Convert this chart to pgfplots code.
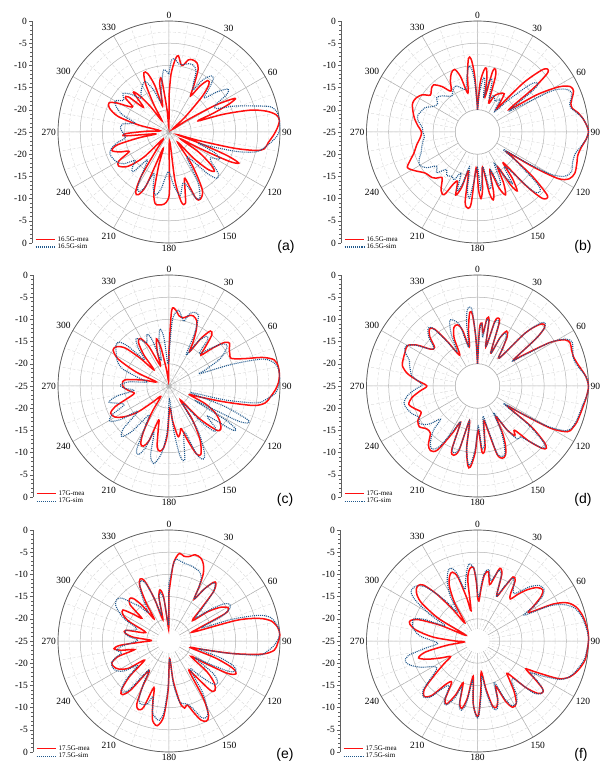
\documentclass[border=0pt]{standalone}
\usepackage{fontspec}
\setmainfont{Liberation Serif}
\setsansfont{Liberation Sans}
\usepackage{pgfplots}
\usepackage{pgfplotstable}
\pgfplotsset{compat=1.18}
\usepgfplotslibrary{polar}
\definecolor{simblue}{RGB}{32,88,140}
\definecolor{mred}{RGB}{255,15,15}
\definecolor{axgray}{RGB}{95,95,95}

\pgfplotsset{
  table/polartab/.style={x expr={mod(450-\thisrow{a},360)}, y expr={\thisrow{d}+25}},
  mypolar/.style={
    scale only axis, width=222pt, height=222pt, anchor=center,
    xmin=0, xmax=360, ymin=0, ymax=25,
    xtick={0,30,...,330},
    xticklabels={90,60,30,0,330,300,270,240,210,180,150,120},
    ytick={5,10,15,20,25}, yticklabels={{},{},{},{},{}},
    minor xtick={0,10,...,350},
    minor ytick={2.5,7.5,12.5,17.5,22.5},
    grid=both,
    major grid style={draw=gray!60, line width=0.5pt},
    minor grid style={draw=gray!30, densely dashed, line width=0.4pt},
    axis line style={draw=axgray, line width=0.7pt},
    y axis line style={draw=none},
    major tick length=0pt, minor tick length=0pt,
    xticklabel style={font=\fontsize{9.5}{11}\selectfont, inner sep=2pt},
    clip=false,
  },
  mea/.style={color=mred, line width=1.5pt, smooth, tension=0.5},
  sim/.style={color=simblue, line width=1.1pt, dash pattern=on 1pt off 1pt, smooth, tension=0.5},
  scaleax/.style={anchor=south west, scale only axis, width=1pt, height=222pt,
    xmin=0, xmax=1, ymin=0, ymax=50, hide x axis, axis y line*=left,
    ytick={0,5,...,50}, yticklabels={0,-5,-10,-15,-20,-25,-20,-15,-10,-5,0},
    minor y tick num=4, tick align=outside, major tick length=3pt, minor tick length=1.6pt,
    y axis line style={draw=axgray, line width=0.6pt},
    every tick/.style={axgray, line width=0.5pt},
    yticklabel style={font=\fontsize{9.5}{11}\selectfont, inner sep=2pt},
    legend style={at={(axis description cs:0,0)}, anchor=north west, xshift=2.5pt, yshift=8.8pt,
      draw=none, fill=none, font=\fontsize{7}{8}\selectfont, row sep=-2.5pt, inner sep=0pt,
      cells={anchor=west}},
    legend image code/.code={\draw[##1] (0pt,0pt) -- (19pt,0pt);}},
}
\newcommand{\leg}[1]{%
  \addlegendimage{draw=mred, solid, line width=1.8pt}\addlegendentry{#1-mea}
  \addlegendimage{draw=simblue, line width=1.2pt, dash pattern=on 1.1pt off 1pt}\addlegendentry{#1-sim}}

% ---------------- (a) 16.5 GHz ----------------
\pgfplotstableread[row sep=\\]{a d\\
0 -17\\ 2 -12\\ 5 -8.5\\ 7 -7.7\\ 10 -9.5\\ 12 -9.6\\ 15 -8.2\\ 18 -7.9\\ 22 -8.2\\ 25 -9.5\\ 28 -13\\ 31 -15.5\\ 34 -12.5\\ 37 -10.5\\ 40 -11\\ 43 -14\\ 47 -20\\ 52 -24\\ 57 -20\\ 60 -13\\ 63 -8.3\\ 65 -10\\ 67 -14\\ 69 -18\\ 72 -12\\ 75 -6\\ 78 -2.5\\ 81 -0.5\\ 84 0\\ 88 -0.6\\ 92 -1.5\\ 96 -2.5\\ 100 -3.2\\ 102 -5\\ 104 -10\\ 106 -18\\ 108 -23\\ 110 -18\\ 112 -11\\ 114 -7.8\\ 116 -10\\ 118 -17\\ 121 -22\\ 124 -17\\ 128 -13\\ 131 -11.5\\ 134 -13\\ 137 -17\\ 140 -22\\ 145 -16\\ 150 -10\\ 155 -8.3\\ 158 -9\\ 161 -14\\ 164 -12\\ 167 -8.5\\ 170 -9\\ 173 -14\\ 177 -23\\ 179.5 -12\\ 181 -9.7\\ 184 -8.7\\ 188 -8.4\\ 191 -8.6\\ 194 -11\\ 197 -17\\ 200 -21\\ 203 -12\\ 206 -9.3\\ 209 -9.5\\ 212 -13\\ 215 -20\\ 220 -23\\ 225 -17\\ 230 -13\\ 236 -11.3\\ 240 -12\\ 244 -15\\ 248 -13\\ 252 -11.5\\ 256 -13\\ 259 -18\\ 262 -22\\ 265 -15\\ 268 -15.5\\ 272 -20\\ 278 -23\\ 283 -18\\ 287 -13\\ 292 -10.5\\ 296 -10\\ 299 -11.5\\ 302 -14\\ 305 -15\\ 308 -12.5\\ 311 -13\\ 314 -17\\ 318 -13\\ 321 -14.5\\ 324 -18\\ 328 -22\\ 331 -18\\ 334 -13\\ 337 -10.5\\ 340 -11\\ 343 -14\\ 346 -19\\ 349 -14\\ 352 -13\\ 355 -20\\ 358 -24\\ 360 -17\\
}\AMea
\pgfplotstableread[row sep=\\]{a d\\
0 -12\\ 2 -8.8\\ 5 -8.6\\ 8 -9.5\\ 12 -9.5\\ 16 -9\\ 20 -9\\ 24 -10\\ 27 -13\\ 30 -14\\ 33 -11\\ 37 -9.2\\ 40 -9.5\\ 43 -12\\ 46 -14\\ 50 -11\\ 54 -8.5\\ 57 -9.5\\ 60 -13\\ 64 -13\\ 68 -9.5\\ 72 -6\\ 76 -1.5\\ 80 -0.2\\ 84 0\\ 88 0\\ 92 -0.6\\ 96 -2\\ 100 -3.5\\ 103 -5\\ 106 -9\\ 109 -15\\ 111 -18\\ 114 -14\\ 118 -12\\ 122 -14\\ 126 -13\\ 130 -10.5\\ 134 -10\\ 137 -12\\ 140 -16\\ 145 -18\\ 150 -12\\ 155 -8.5\\ 158 -9\\ 161 -12\\ 165 -13\\ 170 -10.5\\ 175 -13\\ 180 -16\\ 184 -15\\ 188 -12\\ 192 -10.5\\ 196 -12\\ 200 -15\\ 204 -11\\ 207 -10\\ 210 -11\\ 214 -15\\ 218 -17\\ 222 -13\\ 226 -13.5\\ 230 -15\\ 235 -12.5\\ 240 -11.5\\ 245 -11\\ 250 -10.8\\ 254 -11.5\\ 258 -13\\ 262 -15\\ 266 -15\\ 270 -14.5\\ 275 -14\\ 280 -14.5\\ 285 -17\\ 290 -14\\ 295 -12\\ 300 -11\\ 305 -12.5\\ 310 -11.5\\ 315 -13\\ 320 -15\\ 325 -14\\ 330 -13\\ 335 -12.5\\ 340 -15\\ 345 -18\\ 350 -15\\ 355 -11\\ 360 -12\\
}\ASim
% ---------------- (b) ----------------
\pgfplotstableread[row sep=\\]{a d\\
0 -20\\ 3 -14\\ 6 -11\\ 8 -10.5\\ 10 -13\\ 12 -17\\ 14 -11\\ 16 -10.3\\ 18 -12\\ 21 -18\\ 25 -16\\ 30 -15\\ 35 -14.5\\ 38 -17\\ 40 -18\\ 43 -10\\ 46 -5\\ 48 -3.8\\ 50 -4.5\\ 52 -9\\ 54 -16\\ 56 -15\\ 58 -9\\ 61 -4\\ 64 -1.7\\ 67 -1.5\\ 70 -2.3\\ 73 -3\\ 76 -3\\ 79 -2\\ 83 -1\\ 87 -0.3\\ 90 0\\ 94 -0.5\\ 98 -1.3\\ 103 -1.8\\ 108 -1.5\\ 113 -1.2\\ 117 -1.8\\ 120 -4\\ 122 -10\\ 124 -17\\ 126 -15\\ 129 -9\\ 132 -4\\ 134 -3.4\\ 136 -4.5\\ 138 -9\\ 140 -16\\ 143 -12\\ 146 -9\\ 148 -11\\ 150 -16\\ 153 -12\\ 156 -9.5\\ 159 -11.5\\ 162 -16\\ 165 -11\\ 167 -9.3\\ 169 -11\\ 172 -17\\ 175 -12\\ 177 -10\\ 179 -12\\ 182 -17\\ 185 -9\\ 187 -7.7\\ 190 -9\\ 193 -16\\ 196 -12\\ 199 -10\\ 202 -13\\ 205 -12\\ 208 -9\\ 212 -9.5\\ 215 -11\\ 218 -12\\ 222 -11\\ 225 -10.5\\ 232 -10\\ 238 -8.5\\ 243 -7.3\\ 247 -8.5\\ 252 -10\\ 258 -11\\ 264 -12\\ 270 -12.4\\ 276 -11.5\\ 282 -10.5\\ 288 -9.7\\ 294 -9\\ 299 -9.2\\ 304 -10\\ 308 -11.5\\ 313 -10.8\\ 317 -10.5\\ 322 -12\\ 327 -14\\ 332 -12\\ 336 -10.5\\ 340 -10\\ 343 -12\\ 346 -16\\ 350 -12\\ 353 -8.3\\ 355 -8.5\\ 357 -12\\ 359 -18\\ 360 -20\\
}\BMea
\pgfplotstableread[row sep=\\]{a d\\
0 -20\\ 3 -16\\ 6 -13\\ 8 -13\\ 10 -17\\ 13 -13\\ 16 -13\\ 19 -17\\ 24 -16\\ 30 -17\\ 35 -16\\ 40 -19\\ 44 -15\\ 48 -9\\ 51 -7.5\\ 53 -9\\ 56 -16\\ 58 -15\\ 61 -6\\ 64 -3\\ 67 -2\\ 70 -2.5\\ 73 -3.3\\ 76 -3.2\\ 79 -2.2\\ 83 -1\\ 87 -0.3\\ 90 0\\ 94 -0.5\\ 98 -1.5\\ 103 -2.5\\ 108 -2.5\\ 113 -2\\ 117 -3\\ 120 -6\\ 122 -12\\ 124 -18\\ 127 -14\\ 131 -7\\ 134 -5.5\\ 137 -7\\ 140 -14\\ 143 -15\\ 146 -11\\ 149 -14\\ 152 -17\\ 155 -13\\ 158 -12\\ 161 -16\\ 165 -13\\ 168 -12\\ 171 -17\\ 174 -15\\ 177 -12\\ 180 -17\\ 184 -14\\ 187 -10\\ 190 -12\\ 193 -17\\ 196 -13\\ 199 -11\\ 202 -15\\ 206 -13\\ 210 -13.5\\ 215 -13\\ 220 -14\\ 225 -12\\ 230 -13\\ 235 -11\\ 240 -10\\ 245 -10.5\\ 250 -11.5\\ 255 -12\\ 260 -12.5\\ 265 -13\\ 270 -12.7\\ 275 -12.5\\ 280 -11.5\\ 285 -11\\ 290 -11.5\\ 295 -12\\ 300 -13.5\\ 305 -14\\ 310 -13\\ 315 -13.5\\ 320 -14.5\\ 325 -15\\ 330 -14\\ 335 -13.5\\ 340 -14.5\\ 345 -15\\ 348 -13\\ 351 -11\\ 353 -10\\ 355 -11\\ 357 -14\\ 360 -20\\
}\BSim
% ---------------- (c) ----------------
\pgfplotstableread[row sep=\\]{a d\\
0 -17\\ 2 -8\\ 5 -7.8\\ 8 -9\\ 12 -9.3\\ 16 -8.5\\ 19 -8.3\\ 23 -9\\ 26 -11\\ 29 -14\\ 31 -16\\ 34 -12\\ 37 -9.5\\ 40 -10\\ 43 -13\\ 46 -15\\ 49 -12\\ 52 -9\\ 55 -8.3\\ 58 -9\\ 62 -9.5\\ 66 -9.7\\ 70 -7\\ 73 -3\\ 76 -0.6\\ 80 0\\ 84 0\\ 88 -0.3\\ 92 -1\\ 96 -2\\ 100 -3\\ 103 -5.5\\ 106 -12\\ 110 -18\\ 113 -20\\ 116 -16\\ 120 -13\\ 125 -11\\ 130 -9.8\\ 133 -10.5\\ 137 -15\\ 141 -21\\ 145 -16\\ 150 -11\\ 155 -8\\ 158 -8.5\\ 161 -12\\ 164 -15\\ 167 -14\\ 170 -13.5\\ 174 -17\\ 178 -20\\ 182 -14\\ 185 -11\\ 188 -10.2\\ 191 -11\\ 194 -15\\ 197 -17\\ 200 -12\\ 203 -10.3\\ 206 -10.5\\ 209 -13\\ 213 -18\\ 218 -22\\ 225 -20\\ 230 -16\\ 235 -13\\ 240 -11\\ 245 -10.5\\ 249 -12\\ 253 -15\\ 258 -17\\ 263 -16\\ 268 -14.8\\ 273 -14.5\\ 278 -15\\ 283 -19\\ 288 -22\\ 293 -17\\ 298 -12\\ 303 -10\\ 307 -10.3\\ 311 -12\\ 314 -16\\ 317 -20\\ 321 -16\\ 325 -13\\ 329 -12.5\\ 333 -15\\ 337 -20\\ 341 -17\\ 345 -14\\ 348 -16\\ 351 -21\\ 355 -24\\ 358 -22\\ 360 -17\\
}\CMea
\pgfplotstableread[row sep=\\]{a d\\
0 -18\\ 3 -10\\ 7 -7.8\\ 10 -9\\ 13 -10\\ 16 -8\\ 20 -7.4\\ 23 -8\\ 26 -12\\ 29 -17\\ 33 -13\\ 37 -11\\ 40 -11.5\\ 43 -15\\ 47 -13\\ 51 -10\\ 55 -9\\ 58 -10\\ 62 -12\\ 66 -16\\ 68 -17.6\\ 71 -10\\ 74 -3\\ 78 -0.6\\ 82 0\\ 86 0\\ 90 -0.3\\ 94 -1\\ 98 -3\\ 101 -5\\ 104 -12\\ 107 -20\\ 110 -12\\ 113 -6\\ 115 -5.3\\ 117 -8\\ 119 -18\\ 121 -10\\ 123 -7\\ 125 -8\\ 128 -14\\ 132 -11\\ 135 -10.5\\ 138 -14\\ 142 -20\\ 147 -13\\ 152 -8\\ 155 -6.8\\ 158 -8.5\\ 161 -14\\ 165 -12\\ 168 -8\\ 171 -9\\ 174 -15\\ 178 -22\\ 182 -15\\ 186 -10\\ 190 -7.5\\ 192 -7.3\\ 195 -9\\ 198 -14\\ 201 -10\\ 204 -8.1\\ 207 -9\\ 211 -15\\ 215 -17\\ 219 -12\\ 223 -9.4\\ 227 -11\\ 231 -16\\ 235 -12\\ 239 -9.5\\ 243 -10.5\\ 247 -14\\ 251 -13\\ 255 -11\\ 259 -13\\ 263 -17\\ 267 -15\\ 271 -14\\ 276 -16\\ 280 -20\\ 285 -18\\ 290 -14\\ 296 -12\\ 302 -11\\ 307 -10\\ 311 -9.9\\ 314 -12\\ 317 -17\\ 321 -14\\ 325 -12\\ 329 -13\\ 333 -14\\ 337 -12.3\\ 340 -14\\ 343 -19\\ 347 -15\\ 351 -12\\ 354 -14\\ 357 -20\\ 360 -18\\
}\CSim
% ---------------- (d) ----------------
\pgfplotstableread[row sep=\\]{a d\\
0 -20\\ 2 -12\\ 4 -10.8\\ 6 -13\\ 8 -9.6\\ 10 -10\\ 12 -16\\ 15 -10\\ 17 -9\\ 19 -10\\ 22 -17\\ 25 -13\\ 28 -11\\ 31 -12\\ 34 -15\\ 38 -17\\ 42 -9\\ 45 -5.5\\ 47 -4.6\\ 49 -5\\ 51 -8\\ 54 -15\\ 56 -12.5\\ 59 -6\\ 62 -2.8\\ 65 -2\\ 69 -2.3\\ 73 -2.4\\ 77 -2\\ 81 -1.3\\ 85 -0.5\\ 90 0\\ 95 -0.3\\ 100 -0.7\\ 105 -1\\ 110 -1.2\\ 114 -1.6\\ 117 -2.3\\ 120 -6\\ 122 -13\\ 124 -17\\ 127 -10\\ 130 -5.5\\ 132 -4.1\\ 134 -4.8\\ 137 -8\\ 140 -12\\ 143 -11\\ 146 -13\\ 149 -17\\ 152 -13\\ 155 -10\\ 158 -8.2\\ 161 -7.8\\ 164 -9\\ 167 -15\\ 170 -17\\ 173 -11\\ 176 -10\\ 179 -15\\ 182 -10\\ 185 -6.7\\ 187 -7\\ 190 -11\\ 193 -17\\ 196 -10\\ 199 -8.5\\ 202 -9.5\\ 205 -16\\ 208 -13\\ 212 -8\\ 216 -7\\ 220 -7.8\\ 225 -10\\ 230 -10\\ 235 -9\\ 240 -9.5\\ 245 -11\\ 250 -10\\ 255 -9\\ 260 -10\\ 265 -12\\ 270 -13.6\\ 275 -11.5\\ 280 -9\\ 285 -7.5\\ 290 -7.2\\ 295 -7\\ 300 -6.8\\ 304 -8.5\\ 308 -11.5\\ 312 -12\\ 316 -9.5\\ 320 -8.2\\ 323 -9\\ 326 -13\\ 330 -17\\ 334 -13\\ 338 -10.8\\ 342 -10.5\\ 345 -12\\ 348 -16\\ 351 -12\\ 354 -8.3\\ 356 -9\\ 358 -14\\ 360 -20\\
}\DMea
\pgfplotstableread[row sep=\\]{a d\\
0 -20\\ 2 -13\\ 4 -11\\ 6 -14\\ 8 -10\\ 10 -10.5\\ 12 -16\\ 15 -10.5\\ 17 -9.5\\ 19 -10.5\\ 22 -17\\ 25 -13\\ 28 -11.5\\ 31 -12.5\\ 34 -15\\ 38 -17\\ 42 -9\\ 45 -5\\ 47 -4.2\\ 49 -5\\ 51 -8\\ 54 -15\\ 56 -13.5\\ 59 -6\\ 62 -2.5\\ 65 -1.5\\ 69 -2\\ 73 -2.5\\ 77 -2.3\\ 81 -1.5\\ 85 -0.5\\ 90 0\\ 95 -0.3\\ 100 -0.9\\ 105 -1.2\\ 110 -1.4\\ 114 -1.8\\ 117 -2.8\\ 120 -7\\ 122 -14\\ 124 -18\\ 127 -11\\ 130 -6\\ 132 -4.5\\ 134 -5\\ 137 -8\\ 140 -10\\ 143 -10\\ 146 -13\\ 149 -18\\ 152 -14\\ 155 -11\\ 158 -8.5\\ 161 -8.2\\ 164 -9.5\\ 167 -16\\ 170 -18\\ 173 -12\\ 176 -11\\ 179 -16\\ 182 -11\\ 185 -7.3\\ 187 -7.5\\ 190 -11\\ 193 -17\\ 196 -10.5\\ 199 -9\\ 202 -10\\ 205 -16\\ 208 -14\\ 212 -9\\ 216 -7.5\\ 220 -8.5\\ 225 -11\\ 228 -13.8\\ 232 -11\\ 237 -9.5\\ 242 -10\\ 247 -9\\ 252 -8.3\\ 257 -8\\ 262 -9\\ 267 -11\\ 271 -12.5\\ 275 -11.5\\ 279 -10\\ 283 -9.5\\ 287 -9\\ 291 -8.5\\ 295 -7\\ 299 -6.5\\ 303 -8\\ 307 -11\\ 311 -12\\ 315 -9.5\\ 319 -8\\ 322 -8.3\\ 325 -12\\ 329 -16\\ 333 -12\\ 337 -9\\ 341 -9.5\\ 344 -11\\ 347 -16\\ 350 -11\\ 352 -8\\ 354 -7.1\\ 356 -8\\ 358 -14\\ 360 -20\\
}\DSim
% ---------------- (e) ----------------
\pgfplotstableread[row sep=\\]{a d\\
0 -14\\ 3 -8\\ 5 -6\\ 7 -5.1\\ 10 -5.6\\ 13 -5.5\\ 17 -4.7\\ 21 -5\\ 24 -6\\ 27 -8\\ 29 -11\\ 31 -14\\ 34 -11\\ 37 -8.5\\ 39 -8.2\\ 42 -10\\ 45 -15\\ 49 -18\\ 53 -14\\ 57 -11\\ 61 -9.7\\ 64 -11\\ 67 -18\\ 70 -19\\ 73 -9\\ 76 -4\\ 79 -1.5\\ 83 -0.3\\ 87 0\\ 91 -0.5\\ 95 -1.2\\ 98 -3.8\\ 101 -10\\ 104 -17\\ 107 -20\\ 110 -14\\ 113 -9.5\\ 116 -8.2\\ 119 -10\\ 122 -16\\ 125 -19\\ 129 -14\\ 133 -11\\ 137 -9.8\\ 140 -10.5\\ 143 -15\\ 146 -17\\ 149 -10\\ 152 -6\\ 155 -5.1\\ 158 -5.8\\ 161 -8\\ 164 -10\\ 167 -9.5\\ 170 -11\\ 174 -16\\ 178 -21\\ 181 -14\\ 184 -8\\ 187 -6\\ 189 -5.8\\ 192 -7\\ 195 -11\\ 198 -14\\ 201 -9\\ 204 -8.1\\ 207 -9\\ 210 -13\\ 214 -17\\ 218 -11\\ 221 -9\\ 224 -9.5\\ 228 -13\\ 232 -18\\ 236 -14\\ 241 -12\\ 245 -11.3\\ 249 -11.2\\ 253 -13\\ 256 -17\\ 259 -14\\ 262 -12.5\\ 265 -14\\ 268 -19\\ 272 -21\\ 276 -17\\ 280 -15\\ 284 -15\\ 288 -19\\ 292 -19\\ 296 -15\\ 300 -13\\ 304 -12.5\\ 307 -15\\ 310 -17\\ 313 -13\\ 317 -12\\ 320 -12.5\\ 323 -15\\ 326 -19\\ 329 -15\\ 332 -11\\ 335 -9.6\\ 338 -10.5\\ 341 -15\\ 344 -20\\ 347 -15\\ 350 -13.3\\ 353 -15\\ 356 -21\\ 359 -22\\ 360 -14\\
}\EMea
\pgfplotstableread[row sep=\\]{a d\\
0 -12\\ 3 -8\\ 5 -6.5\\ 8 -6.8\\ 12 -7.2\\ 16 -7.3\\ 20 -7.6\\ 24 -8\\ 27 -9\\ 29 -11\\ 31 -14\\ 34 -11\\ 37 -8.7\\ 39 -8.5\\ 42 -10\\ 45 -14\\ 49 -17\\ 53 -13\\ 56 -10\\ 59 -9\\ 62 -9.5\\ 65 -12\\ 68 -17\\ 71 -10\\ 74 -4\\ 77 -1.5\\ 81 -0.5\\ 85 0\\ 89 -0.4\\ 93 -1.5\\ 96 -2.8\\ 99 -4.5\\ 102 -12\\ 105 -18\\ 108 -13\\ 111 -9.5\\ 114 -8.5\\ 117 -10\\ 120 -15\\ 123 -18\\ 126 -13\\ 129 -11\\ 132 -10.5\\ 135 -11.5\\ 139 -15\\ 143 -17\\ 147 -11\\ 151 -7\\ 154 -5.8\\ 157 -6.3\\ 160 -8.5\\ 163 -10\\ 166 -10.5\\ 170 -11\\ 174 -15\\ 178 -21\\ 181 -15\\ 184 -9\\ 187 -7\\ 190 -7.5\\ 193 -8.5\\ 196 -12\\ 199 -10\\ 203 -9.5\\ 207 -10\\ 211 -14\\ 215 -17\\ 219 -11\\ 222 -9.5\\ 225 -10\\ 228 -12\\ 232 -16\\ 236 -13\\ 240 -11.5\\ 244 -11\\ 248 -11\\ 252 -12\\ 256 -14\\ 260 -13\\ 264 -14.5\\ 268 -17\\ 272 -18\\ 276 -16\\ 280 -15\\ 284 -15\\ 288 -17\\ 292 -17\\ 296 -14\\ 300 -12\\ 304 -10.5\\ 308 -10\\ 312 -10.5\\ 316 -13\\ 320 -15\\ 324 -17\\ 328 -14\\ 332 -11\\ 335 -10\\ 338 -11\\ 341 -15\\ 344 -19\\ 347 -15\\ 350 -14\\ 353 -15.5\\ 356 -20\\ 359 -21\\ 360 -12\\
}\ESim
% ---------------- (f) ----------------
\pgfplotstableread[row sep=\\]{a d\\
0 -15\\ 2 -16\\ 4 -13\\ 6 -10\\ 9 -9.2\\ 12 -12\\ 14 -11\\ 17 -7.9\\ 20 -9\\ 23 -14\\ 26 -12\\ 29 -8.5\\ 32 -9\\ 35 -12\\ 38 -13\\ 41 -11\\ 44 -9\\ 48 -7\\ 52 -6.3\\ 55 -7.5\\ 58 -10\\ 61 -11.8\\ 64 -6\\ 67 -3\\ 71 -1.5\\ 76 -0.7\\ 81 -0.3\\ 86 0\\ 90 0\\ 95 -0.2\\ 100 -0.4\\ 104 -1\\ 108 -1.8\\ 112 -3\\ 115 -5\\ 118 -10\\ 120 -12.4\\ 123 -10\\ 126 -7\\ 128 -6.3\\ 131 -7\\ 134 -10\\ 137 -15\\ 140 -14\\ 144 -11\\ 148 -8.5\\ 152 -8.1\\ 155 -10\\ 158 -14\\ 161 -11\\ 164 -9.5\\ 167 -10\\ 170 -14\\ 173 -18\\ 176 -14\\ 179 -8.5\\ 181 -8.3\\ 184 -11\\ 187 -17\\ 190 -12\\ 193 -9.4\\ 196 -10.5\\ 199 -15\\ 202 -12\\ 206 -9.2\\ 209 -10\\ 212 -14\\ 216 -13\\ 220 -9\\ 224 -7.7\\ 228 -9\\ 232 -13\\ 236 -16\\ 240 -18\\ 245 -16\\ 250 -13\\ 254 -11.2\\ 258 -13\\ 262 -18\\ 266 -22\\ 270 -20\\ 275 -15\\ 280 -11\\ 284 -9.3\\ 287 -9.2\\ 290 -11\\ 293 -16\\ 296 -22\\ 300 -15\\ 304 -10\\ 307 -8\\ 310 -7\\ 313 -6.7\\ 316 -7.5\\ 319 -11\\ 322 -16\\ 325 -20\\ 329 -15\\ 333 -11\\ 337 -9\\ 340 -8.5\\ 343 -10\\ 346 -15\\ 348 -18\\ 351 -11\\ 354 -8.6\\ 357 -8.5\\ 359 -12\\ 360 -15\\
}\FMea
\pgfplotstableread[row sep=\\]{a d\\
0 -14\\ 2 -15\\ 4 -12\\ 6 -9.5\\ 9 -8.7\\ 12 -11\\ 14 -10.5\\ 17 -8.3\\ 20 -9.5\\ 23 -14\\ 26 -11.5\\ 29 -8.8\\ 32 -9.5\\ 35 -11\\ 38 -11.5\\ 41 -10\\ 44 -8\\ 48 -6.3\\ 52 -6\\ 55 -7\\ 58 -9.5\\ 61 -13\\ 64 -7\\ 67 -4\\ 71 -2\\ 76 -1\\ 81 -0.5\\ 86 -0.1\\ 90 0\\ 95 -0.3\\ 100 -0.6\\ 104 -1.3\\ 108 -2\\ 112 -3\\ 115 -4.5\\ 118 -8\\ 121 -11\\ 124 -8.5\\ 127 -6.5\\ 130 -6.5\\ 133 -8\\ 136 -13\\ 140 -13\\ 144 -10\\ 148 -8.5\\ 152 -8.5\\ 155 -11\\ 158 -15\\ 161 -11\\ 164 -9\\ 167 -9.5\\ 170 -13\\ 173 -17\\ 176 -13\\ 179 -8.2\\ 181 -8\\ 184 -11\\ 187 -16\\ 190 -11\\ 193 -9\\ 196 -10\\ 199 -14\\ 202 -11\\ 206 -9\\ 209 -9.5\\ 212 -13\\ 216 -12\\ 220 -8.5\\ 224 -7.5\\ 228 -8.5\\ 232 -12\\ 236 -14\\ 240 -13.5\\ 245 -11\\ 250 -9\\ 254 -8.1\\ 258 -9\\ 262 -13\\ 266 -16\\ 270 -15\\ 275 -12\\ 280 -10.5\\ 285 -9.8\\ 289 -9.8\\ 292 -12\\ 295 -17\\ 299 -13\\ 303 -8.5\\ 306 -6.5\\ 309 -6.2\\ 312 -6.5\\ 316 -8\\ 319 -11\\ 322 -14\\ 325 -17\\ 329 -13\\ 333 -10\\ 337 -8\\ 340 -7.5\\ 343 -9\\ 346 -13\\ 349 -11\\ 352 -8.5\\ 354 -7.5\\ 357 -8.5\\ 359 -11\\ 360 -14\\
}\FSim

\begin{document}
\begin{tikzpicture}[x=1pt,y=1pt]
\useasboundingbox (0,0) rectangle (613,764);

% ===== (a)
\begin{polaraxis}[mypolar, at={(169pt,632pt)}]
\addplot[mea] table[polartab] {\AMea};
\addplot[sim] table[polartab] {\ASim};
\end{polaraxis}
\begin{axis}[scaleax, at={(32pt,521pt)}]\leg{16.5G}\end{axis}
% ===== (b)
\begin{polaraxis}[mypolar, at={(477.5pt,632pt)}]
\fill[white] (axis cs:0,0) circle[radius=22.2pt];
\draw[gray!60, line width=0.5pt] (axis cs:0,0) circle[radius=22.2pt];
\addplot[mea] table[polartab] {\BMea};
\addplot[sim] table[polartab] {\BSim};
\end{polaraxis}
\begin{axis}[scaleax, at={(341pt,521pt)}]\leg{16.5G}\end{axis}
% ===== (c)
\begin{polaraxis}[mypolar, at={(169pt,378pt)}]
\addplot[mea] table[polartab] {\CMea};
\addplot[sim] table[polartab] {\CSim};
\end{polaraxis}
\begin{axis}[scaleax, at={(33pt,267pt)}]\leg{17G}\end{axis}
% ===== (d)
\begin{polaraxis}[mypolar, at={(477.5pt,378pt)}]
\fill[white] (axis cs:0,0) circle[radius=22.2pt];
\draw[gray!60, line width=0.5pt] (axis cs:0,0) circle[radius=22.2pt];
\addplot[mea] table[polartab] {\DMea};
\addplot[sim] table[polartab] {\DSim};
\end{polaraxis}
\begin{axis}[scaleax, at={(341pt,267pt)}]\leg{17G}\end{axis}
% ===== (e)
\begin{polaraxis}[mypolar, at={(169pt,123pt)}]
\fill[white] (axis cs:0,0) circle[radius=12pt];
\addplot[mea] table[polartab] {\EMea};
\addplot[sim] table[polartab] {\ESim};
\end{polaraxis}
\begin{axis}[scaleax, at={(33pt,12pt)}]\leg{17.5G}\end{axis}
% ===== (f)
\begin{polaraxis}[mypolar, at={(477.5pt,123pt)}]
\fill[white] (axis cs:0,0) circle[radius=12pt];
\addplot[mea] table[polartab] {\FMea};
\addplot[sim] table[polartab] {\FSim};
\end{polaraxis}
\begin{axis}[scaleax, at={(340pt,12pt)}]\leg{17.5G}\end{axis}

\begin{scope}[every node/.style={font=\sffamily\fontsize{14}{16}\selectfont, inner sep=0pt}]
\node at (286,517) {(a)};
\node at (583,517) {(b)};
\node at (285,264) {(c)};
\node at (583,264) {(d)};
\node at (285,9) {(e)};
\node at (581,9) {(f)};
\end{scope}
\end{tikzpicture}
\end{document}
